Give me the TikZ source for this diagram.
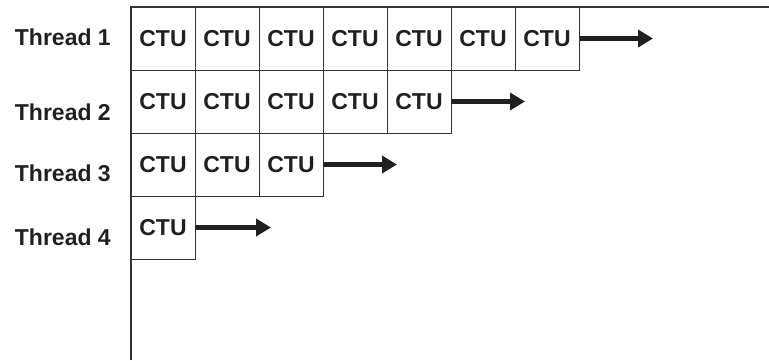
\documentclass[tikz,border=0pt]{standalone}
\usepackage{fontspec}
\setmainfont{Liberation Sans}
\usetikzlibrary{arrows.meta}
\definecolor{ink}{HTML}{231F20}
\definecolor{rule}{HTML}{333333}
\begin{document}
\begin{tikzpicture}[x=1pt,y=-1pt,
  cell/.style={draw=rule,line width=1pt,minimum width=64pt,minimum height=63pt,
    inner sep=0pt,text=ink,font=\fontsize{23}{27}\selectfont\bfseries},
  thread/.style={anchor=east,inner sep=0pt,text=ink,font=\fontsize{23}{27}\selectfont\bfseries},
  flow/.style={draw=ink,line width=4.5pt,-{Triangle[length=15pt,width=17pt]}}]
\useasboundingbox (0,0) rectangle (769,360);
% axes
\coordinate (o) at (131,7);
\coordinate (ybot) at (131,360);
\coordinate (xend) at (769,7);
\draw[rule,line width=1.2pt] (ybot) -- (o) -- (xend);
% thread labels
\node[thread] (t1) at (111,37) {Thread 1};
\node[thread] (t2) at (111,112) {Thread 2};
\node[thread] (t3) at (111,173) {Thread 3};
\node[thread] (t4) at (111,237) {Thread 4};
% CTU rows
\foreach \r/\n in {1/7,2/5,3/3,4/1}{
  \foreach \k in {1,...,\n}{
    \node[cell] (c\r-\k) at ({131+64*(\k-1)+32},{7+63*(\r-1)+31.5}) {CTU};
  }
}
% progress arrows
\coordinate (e1) at (653,38.5);
\coordinate (e2) at (525,101.5);
\coordinate (e3) at (397,164.5);
\coordinate (e4) at (271,227.5);
\draw[flow] (c1-7.east) -- (e1);
\draw[flow] (c2-5.east) -- (e2);
\draw[flow] (c3-3.east) -- (e3);
\draw[flow] (c4-1.east) -- (e4);
\end{tikzpicture}
\end{document}
